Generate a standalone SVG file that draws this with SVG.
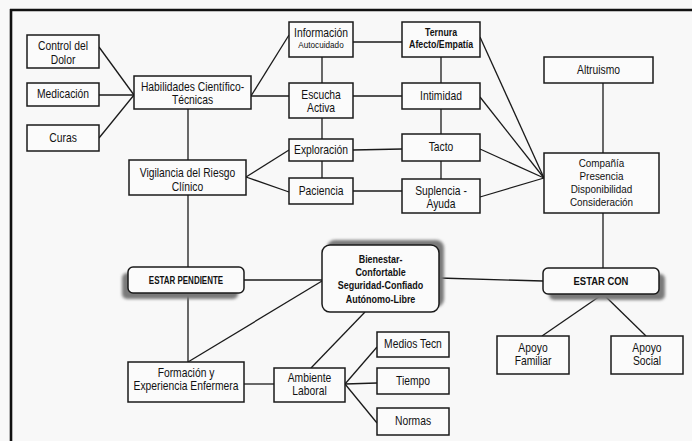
<svg xmlns="http://www.w3.org/2000/svg" width="692" height="441" viewBox="0 0 692 441">
<defs>
<style>
.bx{fill:#fbfbfb;stroke:#1a1a1a;stroke-width:1.5}
.sh{fill:#7a7a7a;filter:url(#blur)}
text{font-family:"Liberation Sans",Arial,sans-serif;font-size:12px;fill:#111;text-anchor:middle;transform-box:fill-box;transform-origin:center;transform:scaleX(.86)}
.s{font-size:9.5px}
.t{font-size:10px;font-weight:bold;transform:scaleX(.88)}
.c{font-size:11.5px}
.m{font-size:11.5px;font-weight:bold;transform:scaleX(.78)}
.p{font-size:10.5px;font-weight:bold;transform:scaleX(.76)}
.q{font-size:10.5px;font-weight:bold;transform:scaleX(.9)}
#connectors line{stroke:#1a1a1a;stroke-width:1.3;fill:none}
</style>
<filter id="blur" x="-20%" y="-40%" width="140%" height="180%"><feGaussianBlur stdDeviation="1.6"/></filter>
</defs>
<rect x="0" y="0" width="692" height="441" fill="#f8f8f8"/>
<g id="frame" stroke="#111" stroke-width="2.6">
<line x1="10" y1="10" x2="692" y2="10"/>
<line x1="11" y1="9" x2="11" y2="441"/>
</g>
<g id="connectors">
<line x1="99" y1="47" x2="134" y2="95"/>
<line x1="99" y1="95" x2="134" y2="95"/>
<line x1="99" y1="138" x2="134" y2="95"/>
<line x1="251" y1="96" x2="289" y2="35"/>
<line x1="251" y1="96" x2="289" y2="96"/>
<line x1="188" y1="109" x2="188" y2="160"/>
<line x1="322" y1="57" x2="322" y2="83"/>
<line x1="322" y1="118" x2="322" y2="139"/>
<line x1="322" y1="161" x2="322" y2="178"/>
<line x1="246" y1="177" x2="289" y2="150"/>
<line x1="246" y1="177" x2="289" y2="192"/>
<line x1="353" y1="42" x2="402" y2="42"/>
<line x1="353" y1="96" x2="402" y2="96"/>
<line x1="353" y1="150" x2="402" y2="149"/>
<line x1="353" y1="191" x2="402" y2="191"/>
<line x1="441" y1="57" x2="441" y2="83"/>
<line x1="441" y1="109" x2="441" y2="134"/>
<line x1="441" y1="161" x2="441" y2="179"/>
<line x1="480" y1="37" x2="544" y2="178"/>
<line x1="480" y1="97" x2="544" y2="178"/>
<line x1="480" y1="149" x2="544" y2="178"/>
<line x1="480" y1="197" x2="544" y2="178"/>
<line x1="603" y1="83" x2="603" y2="153"/>
<line x1="603" y1="213" x2="603" y2="268"/>
<line x1="603" y1="294" x2="542" y2="336"/>
<line x1="603" y1="294" x2="646" y2="336"/>
<line x1="439" y1="278" x2="543" y2="281"/>
<line x1="244" y1="280" x2="322" y2="280"/>
<line x1="188" y1="195" x2="188" y2="267"/>
<line x1="188" y1="293" x2="188" y2="362"/>
<line x1="322" y1="281" x2="188" y2="362"/>
<line x1="244" y1="384" x2="274" y2="384"/>
<line x1="311" y1="368" x2="365" y2="312"/>
<line x1="345" y1="384" x2="377" y2="347"/>
<line x1="345" y1="384" x2="377" y2="383"/>
<line x1="345" y1="384" x2="377" y2="423"/>
</g>
<g id="control-dolor"><rect class="bx" x="27" y="35" width="72" height="33"/><text x="63" y="50">Control del</text><text x="63" y="64">Dolor</text></g>
<g id="medicacion"><rect class="bx" x="27" y="83" width="72" height="23"/><text x="63" y="98">Medicación</text></g>
<g id="curas"><rect class="bx" x="27" y="125" width="72" height="26"/><text x="63" y="142">Curas</text></g>
<g id="habilidades"><rect class="bx" x="134" y="76" width="117" height="33"/><text x="192.5" y="91">Habilidades Científico-</text><text x="192.5" y="104">Técnicas</text></g>
<g id="informacion"><rect class="bx" x="289" y="22" width="64" height="35"/><text x="321" y="37">Información</text><text class="s" x="321" y="48">Autocuidado</text></g>
<g id="escucha"><rect class="bx" x="289" y="83" width="64" height="35"/><text x="321" y="99">Escucha</text><text x="321" y="112">Activa</text></g>
<g id="exploracion"><rect class="bx" x="289" y="139" width="64" height="22"/><text x="321" y="154">Exploración</text></g>
<g id="paciencia"><rect class="bx" x="289" y="178" width="64" height="26"/><text x="321" y="195">Paciencia</text></g>
<g id="vigilancia"><rect class="bx" x="129" y="160" width="117" height="35"/><text x="187.5" y="177">Vigilancia del Riesgo</text><text x="187.5" y="191">Clínico</text></g>
<g id="ternura"><rect class="bx" x="402" y="22" width="78" height="35"/><text class="t" x="441" y="36">Ternura</text><text class="t" x="441" y="48">Afecto/Empatía</text></g>
<g id="intimidad"><rect class="bx" x="402" y="83" width="78" height="26"/><text x="441" y="100">Intimidad</text></g>
<g id="tacto"><rect class="bx" x="402" y="134" width="78" height="27"/><text x="441" y="151">Tacto</text></g>
<g id="suplencia"><rect class="bx" x="402" y="179" width="78" height="34"/><text x="441" y="195">Suplencia -</text><text x="441" y="208">Ayuda</text></g>
<g id="altruismo"><rect class="bx" x="544" y="57" width="109" height="26"/><text x="598.5" y="74">Altruismo</text></g>
<g id="compania"><rect class="bx" x="544" y="153" width="115" height="60"/><text class="c" x="601.5" y="167">Compañía</text><text class="c" x="601.5" y="180">Presencia</text><text class="c" x="601.5" y="193">Disponibilidad</text><text class="c" x="601.5" y="206">Consideración</text></g>
<g id="estar-pendiente"><rect class="sh" x="122" y="273" width="116" height="26" rx="5"/><rect class="bx" x="128" y="267" width="116" height="26" rx="5"/><text class="p" x="186" y="284">ESTAR PENDIENTE</text></g>
<g id="bienestar"><rect class="sh" x="327" y="240" width="117" height="67" rx="8"/><rect class="bx" x="322" y="245" width="117" height="67" rx="8"/><text class="m" x="380.5" y="263">Bienestar-</text><text class="m" x="380.5" y="276">Confortable</text><text class="m" x="380.5" y="289">Seguridad-Confiado</text><text class="m" x="380.5" y="303">Autónomo-Libre</text></g>
<g id="estar-con"><rect class="sh" x="549" y="274" width="116" height="26" rx="5"/><rect class="bx" x="543" y="268" width="116" height="26" rx="5"/><text class="q" x="601" y="285">ESTAR CON</text></g>
<g id="formacion"><rect class="bx" x="128" y="362" width="116" height="40"/><text x="186" y="377">Formación y</text><text x="186" y="390">Experiencia Enfermera</text></g>
<g id="ambiente"><rect class="bx" x="274" y="368" width="71" height="34"/><text x="309.5" y="382">Ambiente</text><text x="309.5" y="395">Laboral</text></g>
<g id="medios"><rect class="bx" x="377" y="332" width="72" height="25"/><text x="413" y="348">Medios Tecn</text></g>
<g id="tiempo"><rect class="bx" x="377" y="368" width="72" height="26"/><text x="413" y="385">Tiempo</text></g>
<g id="normas"><rect class="bx" x="377" y="408" width="72" height="27"/><text x="413" y="425">Normas</text></g>
<g id="apoyo-familiar"><rect class="bx" x="497" y="336" width="72" height="38"/><text x="533" y="352">Apoyo</text><text x="533" y="365">Familiar</text></g>
<g id="apoyo-social"><rect class="bx" x="611" y="336" width="72" height="38"/><text x="647" y="352">Apoyo</text><text x="647" y="365">Social</text></g>
</svg>
